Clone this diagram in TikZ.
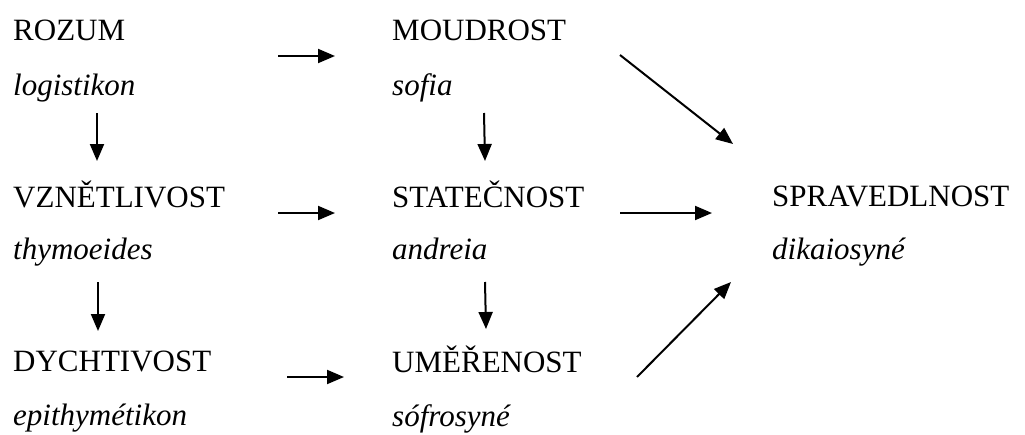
\documentclass[tikz,border=0pt]{standalone}
\usepackage{fontspec}
\setmainfont{Liberation Serif}
\usetikzlibrary{arrows.meta}
\begin{document}
\begin{tikzpicture}[x=1pt,y=-1pt,
  lbl/.style={anchor=base west,inner sep=0pt,font=\fontsize{31}{37}\selectfont},
  term/.style={lbl,font=\fontsize{31}{37}\selectfont\itshape},
  arr/.style={line width=2pt,-{Triangle[length=17pt,width=14pt]}}]
\useasboundingbox (0,0) rectangle (1025,434);
% column 1
\node[lbl]  (rozum) at (13,40)  {ROZUM};
\node[term] (logi)  at (13,95)  {logistikon};
\node[lbl]  (vzn)   at (13,207) {VZNĚTLIVOST};
\node[term] (thym)  at (13,259) {thymoeides};
\node[lbl]  (dych)  at (13,371) {DYCHTIVOST};
\node[term] (epi)   at (13,425) {epithymétikon};
% column 2
\node[lbl]  (moud)  at (392,40)  {MOUDROST};
\node[term] (sofia) at (392,95)  {sofia};
\node[lbl]  (stat)  at (392,207) {STATEČNOST};
\node[term] (andr)  at (392,259) {andreia};
\node[lbl]  (umer)  at (392,372) {UMĚŘENOST};
\node[term] (sofr)  at (392,426) {sófrosyné};
% column 3
\node[lbl]  (sprav) at (772,206) {SPRAVEDLNOST};
\node[term] (dika)  at (772,259) {dikaiosyné};
% arrow ends
\coordinate (r1a) at (278,56);  \coordinate (r1b) at (335,56);
\coordinate (v1a) at (97,113);  \coordinate (v1b) at (97,161);
\coordinate (r2a) at (278,213); \coordinate (r2b) at (335,213);
\coordinate (v2a) at (98,282);  \coordinate (v2b) at (98,331);
\coordinate (r3a) at (287,377); \coordinate (r3b) at (344,377);
\coordinate (v3a) at (484,113); \coordinate (v3b) at (485,161);
\coordinate (d1a) at (620,55);  \coordinate (d1b) at (733,144);
\coordinate (h2a) at (620,213); \coordinate (h2b) at (712,213);
\coordinate (v4a) at (485,282); \coordinate (v4b) at (486,329);
\coordinate (d2a) at (637,377); \coordinate (d2b) at (731,282);
\draw[arr] (r1a) -- (r1b);
\draw[arr] (v1a) -- (v1b);
\draw[arr] (r2a) -- (r2b);
\draw[arr] (v2a) -- (v2b);
\draw[arr] (r3a) -- (r3b);
\draw[arr] (v3a) -- (v3b);
\draw[arr] (d1a) -- (d1b);
\draw[arr] (h2a) -- (h2b);
\draw[arr] (v4a) -- (v4b);
\draw[arr] (d2a) -- (d2b);
\end{tikzpicture}
\end{document}
